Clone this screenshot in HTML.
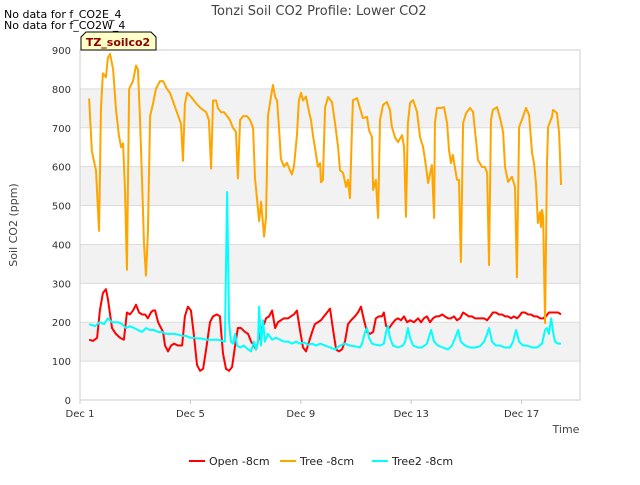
<!DOCTYPE html>
<html><head><meta charset="utf-8"><style>
body{margin:0;background:#fff;font-family:"Liberation Sans","DejaVu Sans",sans-serif}
svg text{font-family:"DejaVu Sans","Liberation Sans",sans-serif}
</style></head><body>
<svg id="chart" width="640" height="480" xmlns="http://www.w3.org/2000/svg">
<rect width="640" height="480" fill="#fff"/>
<text x="319" y="15" text-anchor="middle" font-size="13" fill="#444">Tonzi Soil CO2 Profile: Lower CO2</text>
<text x="4" y="18" font-size="11" fill="#000">No data for f_CO2E_4</text>
<text x="4" y="29" font-size="11" fill="#000">No data for f_CO2W_4</text>
<g id="plot"></g>
<text transform="translate(17,225) rotate(-90)" text-anchor="middle" font-size="11" fill="#444">Soil CO2 (ppm)</text>
<text x="566" y="433" text-anchor="middle" font-size="11" fill="#444">Time</text>
<g>
<path d="M81,50 L81,37 L86,32 L151,32 L156,37 L156,50 Z" fill="#ffffc8" stroke="#000" stroke-width="1"/>
<text x="118" y="46" text-anchor="middle" font-size="11" font-weight="bold" fill="#8b0000">TZ_soilco2</text>
</g>
<g>
<g><line x1="189" y1="461" x2="205" y2="461" stroke="#ff0000" stroke-width="2"/><text x="209" y="465" font-size="11" fill="#222">Open -8cm</text></g>
<g><line x1="280" y1="461" x2="296" y2="461" stroke="#ffa500" stroke-width="2"/><text x="300" y="465" font-size="11" fill="#222">Tree -8cm</text></g>
<g><line x1="372" y1="461" x2="388" y2="461" stroke="#00ffff" stroke-width="2"/><text x="392" y="465" font-size="11" fill="#222">Tree2 -8cm</text></g>
</g>
</svg>
<script>
const yTicks=[0,100,200,300,400,500,600,700,800,900];
const xTickDays=[0,4,8,12,16];
const xTickLabels=["Dec 1","Dec 5","Dec 9","Dec 13","Dec 17"];
const treeT=[.33,.43,.58,.69,.76,.83,.94,1.01,1.09,1.20,1.30,1.41,1.49,1.56,1.63,1.70,1.78,1.85,1.92,2.03,2.10,2.17,2.25,2.32,2.39,2.46,2.54,2.64,2.75,2.90,3.01,3.15,3.26,3.41,3.51,3.66,3.73,3.80,3.88,4.02,4.13,4.24,4.38,4.57,4.67,4.75,4.82,4.93,5.00,5.11,5.22,5.33,5.43,5.54,5.65,5.72,5.80,5.91,6.05,6.16,6.27,6.34,6.41,6.49,6.56,6.67,6.74,6.81,6.92,6.99,7.07,7.14,7.21,7.28,7.39,7.50,7.61,7.68,7.75,7.86,7.93,8.01,8.08,8.19,8.30,8.37,8.44,8.51,8.62,8.70,8.73,8.80,8.88,8.99,9.13,9.24,9.35,9.42,9.53,9.64,9.71,9.78,9.86,9.89,10.04,10.14,10.25,10.40,10.47,10.58,10.62,10.72,10.80,10.87,10.98,11.12,11.23,11.30,11.41,11.52,11.67,11.74,11.81,11.88,11.96,12.07,12.21,12.32,12.43,12.54,12.61,12.75,12.83,12.86,12.93,13.08,13.19,13.30,13.37,13.44,13.51,13.55,13.66,13.73,13.80,13.88,13.99,14.13,14.24,14.31,14.42,14.57,14.67,14.75,14.82,14.89,14.96,15.11,15.22,15.33,15.40,15.51,15.65,15.76,15.83,15.91,16.01,16.16,16.27,16.38,16.45,16.52,16.59,16.67,16.70,16.74,16.78,16.85,16.92,16.96,17.10,17.14,17.28,17.36,17.43];
const treeV=[775,640,590,435,750,840,830,880,890,850,750,680,650,660,540,335,800,810,820,860,850,730,560,400,320,430,730,760,800,820,820,800,790,760,740,710,615,760,790,780,770,760,750,740,720,595,770,770,750,740,740,730,720,700,690,570,720,730,730,720,700,570,520,460,510,420,470,730,780,810,780,770,700,620,600,610,590,580,600,680,770,790,770,780,740,720,680,650,600,609,560,566,753,779,766,712,651,591,584,548,566,519,712,771,776,751,725,728,694,676,540,566,468,720,759,766,746,702,676,663,681,651,471,712,764,771,741,676,651,599,558,604,468,712,751,751,753,712,643,609,630,612,566,566,355,712,738,751,741,694,617,599,599,584,347,720,746,753,725,689,599,561,574,548,316,702,720,751,733,635,609,558,455,483,445,489,471,198,609,702,728,746,738,686,553];
const openT=[.33,.47,.62,.72,.83,.94,1.01,1.16,1.30,1.45,1.59,1.70,1.81,1.92,2.03,2.14,2.25,2.36,2.46,2.57,2.64,2.72,2.83,2.90,3.01,3.08,3.19,3.30,3.41,3.55,3.70,3.80,3.91,4.02,4.13,4.24,4.35,4.46,4.57,4.71,4.82,4.96,5.07,5.18,5.29,5.40,5.51,5.62,5.72,5.83,5.98,6.09,6.20,6.30,6.38,6.45,6.56,6.67,6.74,6.85,6.96,7.07,7.17,7.28,7.39,7.54,7.64,7.75,7.86,7.97,8.08,8.19,8.30,8.41,8.51,8.62,8.73,8.84,8.95,9.06,9.17,9.28,9.38,9.49,9.60,9.71,9.82,9.96,10.07,10.18,10.29,10.40,10.51,10.62,10.72,10.83,10.94,11.01,11.09,11.20,11.30,11.41,11.52,11.63,11.74,11.85,11.96,12.10,12.25,12.36,12.46,12.57,12.68,12.79,12.90,13.01,13.12,13.22,13.33,13.44,13.55,13.66,13.77,13.88,13.99,14.09,14.20,14.31,14.42,14.53,14.64,14.75,14.86,14.96,15.07,15.18,15.29,15.40,15.51,15.62,15.72,15.83,15.91,16.01,16.12,16.23,16.34,16.45,16.56,16.67,16.78,16.88,16.99,17.10,17.21,17.32,17.43];
const openV=[155,152,160,230,275,285,260,185,170,160,155,225,220,230,245,225,220,220,210,225,230,230,200,190,175,140,125,140,145,140,140,215,240,230,165,90,75,80,130,200,215,220,215,120,80,75,85,140,185,185,175,170,150,140,130,150,185,195,210,215,230,185,200,205,210,210,215,220,230,180,135,125,150,175,195,200,205,215,225,235,180,130,125,130,150,195,205,215,225,240,205,175,170,175,210,215,215,225,190,185,195,205,210,205,215,200,205,200,210,200,210,215,200,210,215,215,220,215,210,210,215,205,210,225,220,215,215,210,210,210,210,205,215,225,225,220,220,215,215,210,215,210,215,225,225,220,220,215,215,210,210,215,225,225,225,225,220];
const tree2T=[.33,.54,.72,.87,1.01,1.16,1.38,1.52,1.67,1.81,1.96,2.10,2.25,2.39,2.54,2.68,2.83,2.97,3.12,3.26,3.41,3.55,3.70,3.84,3.99,4.13,4.28,4.42,4.57,4.71,4.86,5.00,5.14,5.25,5.33,5.40,5.47,5.54,5.62,5.69,5.80,5.94,6.09,6.20,6.30,6.38,6.45,6.49,6.56,6.63,6.70,6.81,6.96,7.10,7.25,7.39,7.54,7.68,7.83,7.97,8.12,8.26,8.41,8.55,8.70,8.88,9.06,9.24,9.42,9.60,9.78,9.96,10.14,10.22,10.33,10.40,10.47,10.58,10.72,10.87,11.01,11.09,11.16,11.23,11.34,11.52,11.70,11.78,11.88,11.96,12.07,12.25,12.39,12.57,12.68,12.72,12.83,12.97,13.15,13.33,13.48,13.62,13.70,13.80,13.95,14.13,14.31,14.49,14.64,14.75,14.82,14.93,15.07,15.22,15.40,15.58,15.69,15.76,15.80,15.91,16.05,16.20,16.38,16.56,16.74,16.85,16.92,16.99,17.07,17.14,17.21,17.32,17.43];
const tree2V=[195,190,200,195,210,200,200,195,185,190,185,180,175,185,180,180,175,175,170,170,170,168,165,165,160,160,158,158,155,155,155,155,152,150,535,200,150,145,170,140,135,140,130,125,150,130,150,240,140,205,150,170,155,160,155,150,150,145,150,145,148,142,145,140,145,140,135,130,140,145,140,138,135,145,175,185,160,145,142,140,145,175,190,160,140,135,140,150,185,160,140,135,135,145,170,180,150,140,135,130,140,165,180,150,140,135,135,138,150,170,185,150,140,140,135,135,150,170,180,150,140,140,135,135,145,180,185,170,210,175,150,145,145];

const X0=80,X1=580,Y0=400,Y1=50,DAYPX=27.6;
const xs=d=>X0+d*DAYPX;
const ys=v=>Y0-(v/900)*(Y0-Y1);
const NS="http://www.w3.org/2000/svg";
const plot=document.getElementById('plot');
function mk(tag,attrs,parent){const e=document.createElementNS(NS,tag);for(const k in attrs)e.setAttribute(k,attrs[k]);(parent||plot).appendChild(e);return e;}
// bands
for(let i=1;i<yTicks.length-1;i+=2){
  const b=mk('rect',{x:X0,y:ys(yTicks[i+1]),width:X1-X0,height:ys(yTicks[i])-ys(yTicks[i+1]),fill:'#f2f2f2'});
  
  
}
yTicks.forEach(v=>{
  const l=mk('line',{x1:X0,x2:X1,y1:ys(v),y2:ys(v),stroke:'#dcdcdc','stroke-width':1});
  
  
  const t=mk('text',{x:X0-9,y:ys(v)+4,'text-anchor':'end','font-size':10,fill:'#333'});
  
  
  t.textContent=v;
});
const fr=mk('rect',{x:X0,y:Y1,width:X1-X0,height:Y0-Y1,fill:'none',stroke:'#ccc','stroke-width':1});


xTickDays.forEach((d,i)=>{
  const tk=mk('line',{x1:xs(d),x2:xs(d),y1:Y0,y2:Y0+4,stroke:'#ccc'});
  
  
  const t=mk('text',{x:xs(d),y:Y0+17,'text-anchor':'middle','font-size':10,fill:'#333'});
  
  
  t.textContent=xTickLabels[i];
});
function series(T,V,color,name){
  const p=mk('polyline',{points:T.map((t,i)=>xs(t)+','+ys(V[i])).join(' '),fill:'none',stroke:color,'stroke-width':2,'stroke-linejoin':'round'});
  
  
}
series(openT,openV,'#ff0000','open-8cm-line');
series(treeT,treeV,'#ffa500','tree-8cm-line');
series(tree2T,tree2V,'#00ffff','tree2-8cm-line');
</script>
</body></html>
